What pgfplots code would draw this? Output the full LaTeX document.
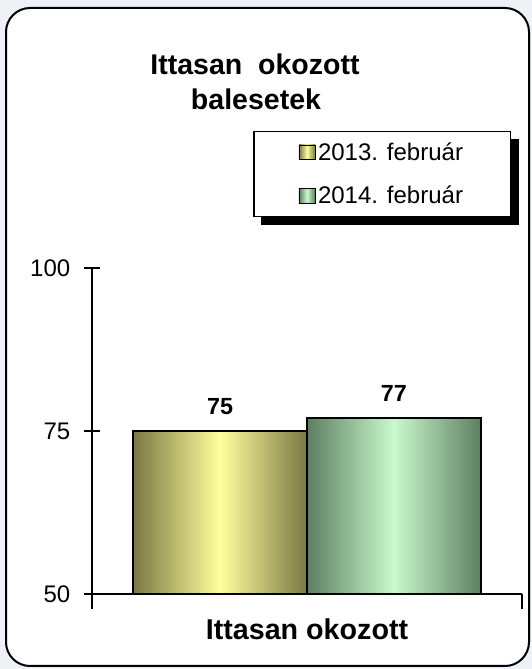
\documentclass[border=0pt]{standalone}
\usepackage{pgfplots}
\pgfplotsset{compat=1.18}
\usepackage{fontspec}
\setmainfont{Liberation Sans}

\definecolor{oliveedge}{HTML}{7A7844}
\definecolor{yellowmid}{HTML}{FFFF9C}
\definecolor{greenedge}{HTML}{5E7F62}
\definecolor{greenmid}{HTML}{C9F9CC}
\definecolor{bgout}{HTML}{EEF2F7}

\pgfdeclarelayer{back}
\pgfdeclarelayer{shadow}
\pgfsetlayers{back,shadow,main}

% small square in the legend instead of the two-bar ybar icon
\pgfplotsset{
  /pgfplots/ybar legend/.style={legend image code/.code={
      \draw[##1, line width=0.6pt, bar width=0pt, bar shift=0pt]
        (0pt,-5.5pt) rectangle (12pt,5.5pt);}},
}

\begin{document}
\begin{tikzpicture}
  % page background and rounded frame (1px = 0.75pt)
  \begin{pgfonlayer}{back}
    \fill[bgout] (0pt,0pt) rectangle (399pt,501.75pt);
    \draw[line width=1.5pt, rounded corners=18pt, fill=white]
      (4.5pt,2.25pt) rectangle (396.75pt,495.75pt);
  \end{pgfonlayer}
  \useasboundingbox (0pt,0pt) rectangle (399pt,501.75pt);

  % title
  \node[font=\bfseries\fontsize{21.4}{25}\selectfont, anchor=base]
    at (191.25pt,445.5pt) {Ittasan\ \ okozott};
  \node[font=\bfseries\fontsize{21.4}{25}\selectfont, anchor=base]
    at (192pt,419.25pt) {balesetek};

  \begin{axis}[
      at={(69pt,56.25pt)}, anchor=south west,
      scale only axis, width=322.5pt, height=244.5pt,
      xmin=-0.736, xmax=1.736, ymin=50, ymax=100,
      axis x line*=bottom, axis y line*=left,
      axis line style={line width=1pt, -},
      ytick={50,75,100},
      xtick={-0.736,1.736}, xticklabels={},
      tick align=center, major tick length=11.5pt,
      tick style={line width=1pt, black},
      /pgf/number format/assume math mode=true,
      ticklabel style={font=\fontsize{18}{21}\selectfont},
      yticklabel style={xshift=-7pt},
      ybar, bar width=130.5pt, bar shift=0pt,
      clip=false,
      nodes near coords,
      every node near coord/.append style={
        font=\bfseries\fontsize{17.5}{20}\selectfont, yshift=8.25pt},
      xlabel={Ittasan okozott},
      xlabel style={font=\bfseries\fontsize{21.5}{25}\selectfont,
        at={(axis description cs:0.5,0)}, anchor=base, yshift=-33.75pt},
      legend cell align=left,
      legend style={name=leg, at={(0.375,1.42)}, anchor=north west,
        draw=black, line width=1pt, fill=white,
        font=\fontsize{18}{21}\selectfont,
        inner xsep=33.5pt, inner ysep=6pt, row sep=14pt},
    ]
    \addplot[draw=black, line width=1pt,
      left color=oliveedge, right color=oliveedge, middle color=yellowmid]
      coordinates {(0,75)};
    \addplot[draw=black, line width=1pt,
      left color=greenedge, right color=greenedge, middle color=greenmid]
      coordinates {(1,77)};
    \legend{2013. február, 2014. február}
  \end{axis}

  % solid shadow behind the legend box
  \begin{pgfonlayer}{shadow}
    \fill[black] ([shift={(6pt,-6pt)}]leg.south west)
      rectangle ([shift={(6pt,-6pt)}]leg.north east);
  \end{pgfonlayer}
\end{tikzpicture}
\end{document}
